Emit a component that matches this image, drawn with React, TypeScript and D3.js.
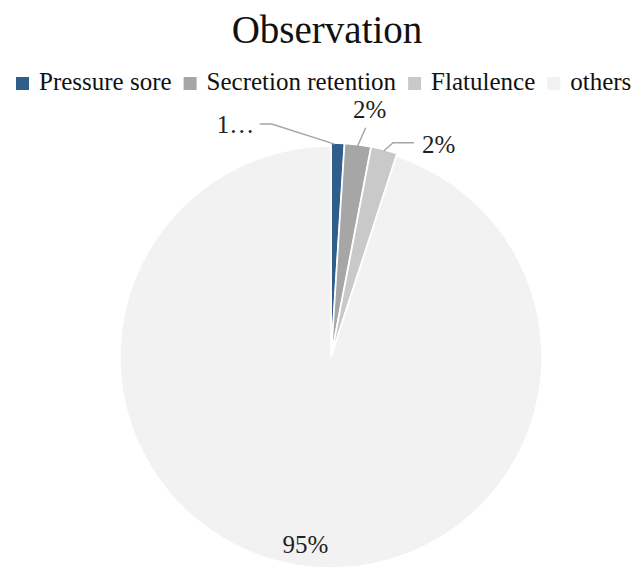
import React from "react";
import * as d3 from "d3";

const categories = ["Pressure sore", "Secretion retention", "Flatulence", "others"];
const values = [1, 2, 2, 95];
const labels = ["1…", "2%", "2%", "95%"];
const colors = ["#2f5d8c", "#a6a6a6", "#c9c9c9", "#f2f2f2"];

const W = 641;
const H = 568;
const FONT = '"Liberation Serif"';

function measure(text: string, size: number) {
  const c = document.createElement("canvas").getContext("2d")!;
  c.font = `${size}px "Liberation Serif"`;
  return c.measureText(text).width;
}

export default function App() {
  const cx = 331;
  const cy = 357;
  const r = 211;
  const pie = d3.pie<number>().sort(null).startAngle(0).endAngle(2 * Math.PI);
  const arcs = pie(values);
  const arc = d3.arc<d3.PieArcDatum<number>>().innerRadius(0).outerRadius(r);

  const legSize = 25;
  const sq = 13;
  let lx = 16;
  const legend = categories.map((c, i) => {
    const item = { x: lx, c, i };
    lx += sq + 10 + measure(c, legSize) + 12;
    return item;
  });

  const labelOffsets = [
    { dx: -121, dy: -11, anchor: "start", line: [[-3, 0], [-66, -20], [-78, -20]] },
    { dx: 12, dy: -28, anchor: "middle", line: [[0, 0], [8, -18]] },
    { dx: 38, dy: 2, anchor: "start", line: [[0, 0], [9, -8], [30, -8]] },
    { dx: 0, dy: 0, anchor: "middle", line: [] },
  ];

  const ts = (size: number) => ({ fontFamily: FONT, fontSize: `${size}px` });

  return (
    <svg width={W} height={H} style={{ position: "absolute", left: 0, top: 0, display: "block" }}>
      <rect width={W} height={H} fill="#ffffff" />
      <text x={327} y={43} textAnchor="middle" style={ts(39)} fill="#111">
        Observation
      </text>
      {legend.map((l) => (
        <g key={l.c}>
          <rect x={l.x} y={77} width={sq} height={sq} fill={colors[l.i]} />
          <text x={l.x + sq + 10} y={90} style={ts(legSize)} fill="#111">
            {l.c}
          </text>
        </g>
      ))}
      <g transform={`translate(${cx},${cy})`}>
        {arcs.map((a, i) => {
          const mid = (a.startAngle + a.endAngle) / 2;
          const explode = i < 3 ? 3 : 0;
          const ox = Math.sin(mid) * explode;
          const oy = -Math.cos(mid) * explode;
          return (
            <path
              key={i}
              d={arc(a) || ""}
              transform={`translate(${ox},${oy})`}
              fill={colors[i]}
              stroke="#ffffff"
              strokeWidth={1.5}
            />
          );
        })}
        {arcs.map((a, i) => {
          const mid = (a.startAngle + a.endAngle) / 2;
          if (i === 3) {
            const rr = r * 0.93;
            return (
              <text key={i} x={Math.sin(mid) * rr + 5} y={-Math.cos(mid) * rr + 2} textAnchor="middle"
                style={ts(25)} fill="#222">
                {labels[i]}
              </text>
            );
          }
          const px = Math.sin(mid) * (r + 2);
          const py = -Math.cos(mid) * (r + 2);
          const o = labelOffsets[i];
          const pts = o.line.map(([x, y]) => [px + x, py + y] as [number, number]);
          return (
            <g key={i}>
              <path d={d3.line()(pts) || ""} fill="none" stroke="#a6a6a6" strokeWidth={1.5} />
              <text x={px + o.dx} y={py + o.dy} textAnchor={o.anchor as any}
                style={ts(25)} fill="#222">
                {labels[i]}
              </text>
            </g>
          );
        })}
      </g>
    </svg>
  );
}
